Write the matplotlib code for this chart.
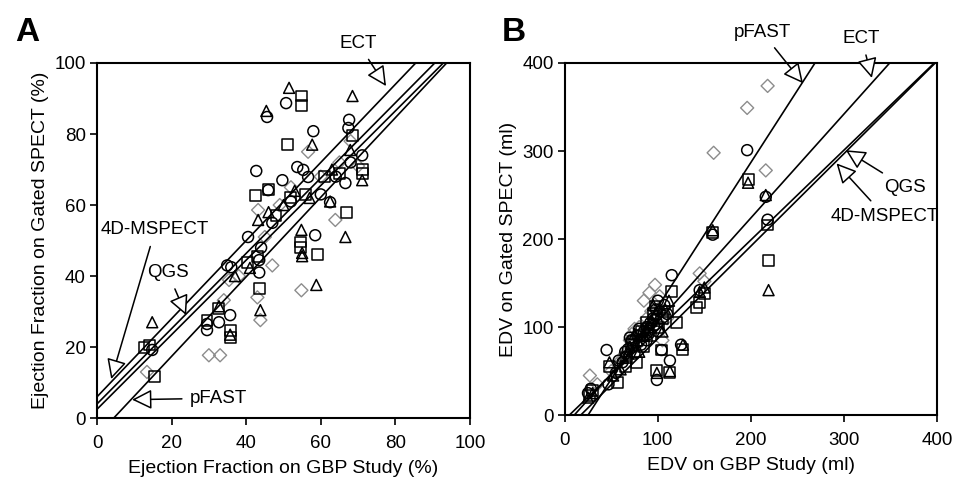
import numpy as np
import matplotlib.pyplot as plt

plt.rcParams['font.family'] = ['Liberation Sans', 'DejaVu Sans']

# ---- Panel A: ejection fraction (%) ----
circ_a_x = [50.7, 45.6, 58, 67.6, 67.4, 42.7, 53.7, 55.3, 56.6, 49.7, 45.9, 66.6, 71.1, 62.5, 58.5, 40.5,
            34.9, 43.5, 29.5, 29.5, 32.7, 35.7, 14.8, 43.5, 47, 52, 60, 64, 68, 36, 44]
circ_a_y = [88.7, 84.8, 80.8, 84, 81.7, 69.6, 70.7, 69.9, 67.9, 67, 64.2, 66.2, 74, 60.8, 51.5, 51,
            43, 41, 24.8, 26.5, 27, 29, 19.2, 44.5, 55, 61, 63, 68, 72, 42.5, 48]
sq_a_x = [54.8, 54.8, 51, 68.5, 42.4, 45.9, 71.1, 71.1, 67, 54.5, 54.5, 59, 43.5, 35.7, 35.7, 29.5,
          32.7, 12.6, 14.2, 15.3, 40.3, 43, 48, 52, 56, 61, 65]
sq_a_y = [90.7, 87.9, 77, 79.7, 62.8, 64.5, 69.9, 69, 58, 49.6, 48, 46, 36.6, 24.8, 22.8, 27.6,
          31, 20, 20.6, 11.6, 43.7, 45.4, 57, 62, 63, 68, 69]
tri_a_x = [51.5, 45.4, 68.5, 57.7, 67.9, 71.1, 62.5, 43.2, 66.6, 54.8, 55, 58.8, 55, 43.8, 35.7, 32.7,
           14.8, 41, 46, 50, 53, 57, 63, 37]
tri_a_y = [93, 86.5, 90.7, 77, 75.5, 67, 61, 55.8, 51, 53, 46.5, 37.5, 45.6, 30.4, 23.5, 31.5,
           27, 42.3, 58, 60, 64, 62, 70, 40]
dia_a_x = [56.6, 63.9, 43.2, 35.4, 30, 33, 34, 43, 43.8, 47, 13.4, 54.8, 65, 60, 49, 45, 68, 70, 52, 38]
dia_a_y = [75, 55.8, 58.6, 38.9, 17.7, 17.7, 33.2, 34, 27.6, 43, 13, 36, 72, 68, 60, 51, 78, 71, 65, 40]

# regression lines (slope, intercept): ECT, 4D-MSPECT, QGS, pFAST
methods = ['ECT', '4D-MSPECT', 'QGS', 'pFAST']
slope_a = [1.10, 1.06, 1.05, 1.12]
icpt_a = [6.0, 4.0, 2.5, -5.0]

# ---- Panel B: EDV (ml) ----
circ_b_x = [25, 28, 45, 47, 55, 62, 68, 72, 78, 82, 85, 88, 92, 95, 98, 100, 104, 99, 113, 115,
            100, 145, 159, 196, 216, 218, 75, 88, 110, 125, 70, 80, 90, 96, 102, 107, 65, 58]
circ_b_y = [25, 30, 74, 35, 48, 60, 75, 85, 90, 80, 95, 100, 105, 110, 120, 95, 74, 40, 62, 159,
            130, 142, 205, 301, 248, 222, 70, 85, 115, 80, 88, 98, 92, 102, 118, 125, 72, 62]
sq_b_x = [27, 30, 48, 57, 65, 72, 77, 82, 88, 92, 95, 99, 104, 113, 115, 127, 142, 145, 150, 159,
          197, 218, 219, 85, 105, 120, 66, 74, 80, 90, 97, 101, 110]
sq_b_y = [22, 28, 55, 37, 55, 80, 60, 95, 105, 90, 115, 51, 74, 48, 140, 75, 122, 128, 138, 207,
          268, 216, 176, 78, 110, 105, 65, 84, 90, 98, 124, 100, 118]
tri_b_x = [25, 30, 48, 52, 62, 70, 78, 85, 90, 95, 100, 99, 113, 127, 112, 145, 150, 159, 197, 216,
           219, 80, 105, 60, 68, 75, 88, 93, 98, 108]
tri_b_y = [20, 25, 60, 45, 65, 78, 85, 90, 100, 125, 110, 48, 50, 80, 130, 140, 145, 210, 264, 250,
           142, 72, 95, 52, 70, 92, 95, 108, 115, 120]
dia_b_x = [27, 35, 50, 60, 70, 75, 80, 88, 91, 97, 100, 105, 110, 145, 150, 160, 196, 218, 216, 65, 85,
           72, 78, 93, 102]
dia_b_y = [45, 35, 50, 62, 85, 98, 100, 110, 139, 148, 120, 85, 110, 161, 152, 298, 349, 374, 278, 70, 130,
           92, 80, 118, 135]

slope_b = [1.18, 1.05, 1.02, 1.64]
icpt_b = [-12.0, -18.0, -5.0, -41.0]

fig = plt.figure(figsize=(9.72, 4.96), dpi=100)
ax1 = fig.add_axes([0.0998, 0.157, 0.3837, 0.716])
ax2 = fig.add_axes([0.581, 0.163, 0.383, 0.710])

gray = '#8c8c8c'
fs = 14


def draw_points(ax, cx, cy, sx, sy, tx, ty, dx, dy):
    kw = dict(facecolors='none', s=62, linewidths=1.1, zorder=3)
    ax.scatter(dx, dy, marker='D', edgecolors=gray, s=44, linewidths=1.0, facecolors='none', zorder=3)
    ax.scatter(cx, cy, marker='o', edgecolors='black', **kw)
    ax.scatter(sx, sy, marker='s', edgecolors='black', **kw)
    ax.scatter(tx, ty, marker='^', edgecolors='black', **kw)


def draw_lines(ax, slopes, icpts, xmax):
    xs = np.linspace(0, xmax, 200)
    for m, b in zip(slopes, icpts):
        ax.plot(xs, m * xs + b, color='black', lw=1.2, zorder=4)


def style(ax, lim, ticks):
    ax.set_xlim(0, lim)
    ax.set_ylim(0, lim)
    ax.set_xticks(ticks)
    ax.set_yticks(ticks)
    for sp in ax.spines.values():
        sp.set_linewidth(1.5)
    ax.tick_params(direction='out', length=5, width=1.2, labelsize=13.5)
    ax.tick_params(axis='x', pad=7)
    ax.tick_params(axis='y', pad=3)


def arrow(ax, text, xy, xytext, ha='center', va='center'):
    ax.annotate(text, xy=xy, xytext=xytext, textcoords='data', fontsize=13.5, ha=ha, va=va,
                annotation_clip=False, zorder=6,
                arrowprops=dict(arrowstyle='-|>,head_length=0.9,head_width=0.45', fc='white',
                                ec='black', lw=1.1, shrinkA=4, shrinkB=0))


# Panel A
draw_points(ax1, circ_a_x, circ_a_y, sq_a_x, sq_a_y, tri_a_x, tri_a_y, dia_a_x, dia_a_y)
draw_lines(ax1, slope_a, icpt_a, 100)
style(ax1, 100, [0, 20, 40, 60, 80, 100])
ax1.set_xlabel('Ejection Fraction on GBP Study (%)', fontsize=fs, labelpad=6)
ax1.set_ylabel('Ejection Fraction on Gated SPECT (%)', fontsize=fs)
arrow(ax1, 'ECT', (77.5, 93.5), (70, 105.5))
arrow(ax1, '4D-MSPECT', (3.8, 11.0), (15.6, 53))
arrow(ax1, 'QGS', (23.9, 29.0), (19, 41))
arrow(ax1, 'pFAST', (9.4, 5.2), (25, 5.6), ha='left')
fig.text(0.016, 0.935, 'A', fontsize=24, fontweight='bold', va='center')

# Panel B
draw_points(ax2, circ_b_x, circ_b_y, sq_b_x, sq_b_y, tri_b_x, tri_b_y, dia_b_x, dia_b_y)
draw_lines(ax2, slope_b, icpt_b, 400)
style(ax2, 400, [0, 100, 200, 300, 400])
ax2.set_xlabel('EDV on GBP Study (ml)', fontsize=fs, labelpad=6)
ax2.set_ylabel('EDV on Gated SPECT (ml)', fontsize=fs)
arrow(ax2, 'pFAST', (256, 377), (212, 435))
arrow(ax2, 'ECT', (330, 383), (319, 428))
arrow(ax2, 'QGS', (302, 301), (366, 259))
arrow(ax2, '4D-MSPECT', (292, 286), (344, 226))
fig.text(0.516, 0.935, 'B', fontsize=24, fontweight='bold', va='center')

fig.savefig('out.png', dpi=100)
